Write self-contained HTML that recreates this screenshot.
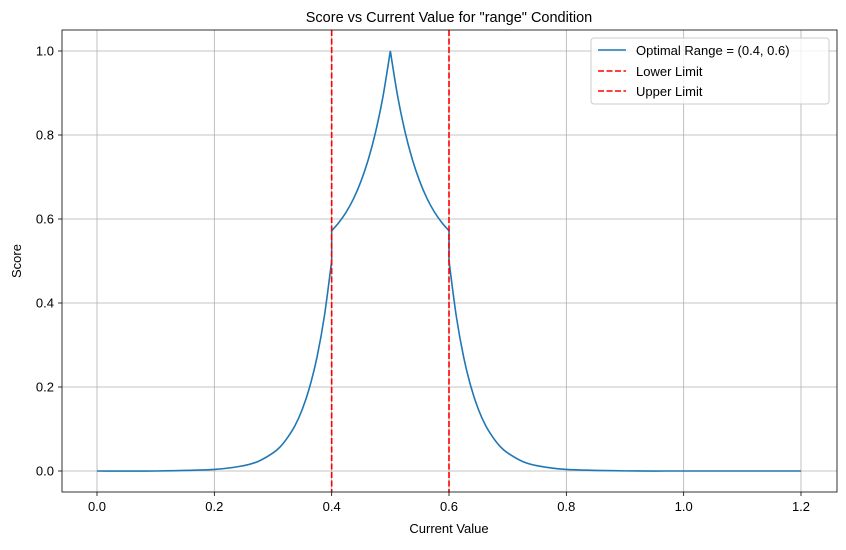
<!DOCTYPE html>
<html><head><meta charset="utf-8"><style>
body{margin:0;background:#fff;}
svg text{font-family:"Liberation Sans","DejaVu Sans",sans-serif;fill:#000;}
</style></head><body>
<svg id="chart" width="846" height="545">
<rect width="846" height="545" fill="#fff"/>
<g id="grid"></g>
<g id="plot"></g>
<rect x="62" y="30" width="775" height="462" fill="none" stroke="#000" stroke-width="0.8"/>
<g id="ticks"></g>
<text x="449" y="22" font-size="14.5" text-anchor="middle">Score vs Current Value for "range" Condition</text>
<text x="449" y="533" font-size="13" text-anchor="middle">Current Value</text>
<text x="21" y="261" font-size="13" text-anchor="middle" transform="rotate(-90 21 261)">Score</text>
<g>
<rect x="591" y="38" width="238" height="66" rx="3" fill="#fff" fill-opacity="0.8" stroke="#ccc"/>
<line x1="598" y1="50" x2="626" y2="50" stroke="#1f77b4" stroke-width="1.6"/>
<text x="636" y="55" font-size="13">Optimal Range = (0.4, 0.6)</text>
<line x1="598" y1="71" x2="626" y2="71" stroke="#ff0000" stroke-width="1.6" stroke-dasharray="6,2.5"/>
<text x="636" y="76" font-size="13">Lower Limit</text>
<line x1="598" y1="91" x2="626" y2="91" stroke="#ff0000" stroke-width="1.6" stroke-dasharray="6,2.5"/>
<text x="636" y="96" font-size="13">Upper Limit</text>
</g>
</svg>
<script>
const xValues=[0,0.1,0.2,0.25,0.275,0.3,0.3125,0.325,0.3375,0.35,0.3625,0.375,0.3875,0.4,0.4,0.4125,0.425,0.4375,0.45,0.4625,0.475,0.4875,0.5,0.5125,0.525,0.5375,0.55,0.5625,0.575,0.5875,0.6,0.6,0.6125,0.625,0.6375,0.65,0.6625,0.675,0.6875,0.7,0.725,0.75,0.8,0.9,1.0,1.1,1.2];
const scores=[0,0.00003,0.0037,0.0127,0.023,0.043,0.058,0.08,0.108,0.147,0.2,0.271,0.368,0.5,0.572,0.592,0.617,0.649,0.69,0.742,0.808,0.892,1.0,0.892,0.808,0.742,0.69,0.649,0.617,0.592,0.572,0.5,0.368,0.271,0.2,0.147,0.108,0.08,0.058,0.043,0.023,0.0127,0.0037,0.0003,0.00003,0,0];
const limits=[0.4,0.6];
const xTicks=[0,0.2,0.4,0.6,0.8,1.0,1.2];
const yTicks=[0,0.2,0.4,0.6,0.8,1.0];
const xTickLabels=["0.0","0.2","0.4","0.6","0.8","1.0","1.2"];
const yTickLabels=["0.0","0.2","0.4","0.6","0.8","1.0"];
</script>
<script>
const NS="http://www.w3.org/2000/svg";
const sx=v=>97+v*(801-97)/1.2;
const sy=v=>471-v*(471-51);
function mk(tag,attrs,parent){const e=document.createElementNS(NS,tag);for(const k in attrs)e.setAttribute(k,attrs[k]);parent.appendChild(e);return e;}
const grid=document.getElementById('grid'),ticks=document.getElementById('ticks'),plot=document.getElementById('plot');
xTicks.forEach((t,i)=>{
 const g=mk('line',{x1:sx(t),x2:sx(t),y1:30,y2:492,stroke:'#b0b0b0','stroke-width':0.8},grid);
 
 
 const m=mk('line',{x1:sx(t),x2:sx(t),y1:492,y2:496,stroke:'#000','stroke-width':0.8},ticks);
 
 
 const l=mk('text',{x:sx(t),y:511,'font-size':13,'text-anchor':'middle'},ticks);
 l.textContent=xTickLabels[i];
 
 
});
yTicks.forEach((t,i)=>{
 const g=mk('line',{x1:62,x2:837,y1:sy(t),y2:sy(t),stroke:'#b0b0b0','stroke-width':0.8},grid);
 
 
 const m=mk('line',{x1:58,x2:62,y1:sy(t),y2:sy(t),stroke:'#000','stroke-width':0.8},ticks);
 
 
 const l=mk('text',{x:54,y:sy(t)+4.5,'font-size':13,'text-anchor':'end'},ticks);
 l.textContent=yTickLabels[i];
 
 
});
const pts=xValues.map((x,i)=>[sx(x),sy(scores[i])]);
const peak=scores.indexOf(Math.max(...scores));
function isBreak(i){
 if(i===peak)return true;
 if(i>0&&Math.abs(pts[i-1][0]-pts[i][0])<0.01)return true;
 if(i<pts.length-1&&Math.abs(pts[i+1][0]-pts[i][0])<0.01)return true;
 return false;
}
let d='M'+pts[0][0].toFixed(2)+','+pts[0][1].toFixed(2);
for(let i=0;i<pts.length-1;i++){
 const p1=pts[i],p2=pts[i+1];
 if(Math.abs(p1[0]-p2[0])<0.01){d+=' L'+p2[0].toFixed(2)+','+p2[1].toFixed(2);continue;}
 const p0=(i>0&&!isBreak(i))?pts[i-1]:p1;
 const p3=(i+2<pts.length&&!isBreak(i+1))?pts[i+2]:p2;
 const c1=[p1[0]+(p2[0]-p0[0])/6,p1[1]+(p2[1]-p0[1])/6];
 const c2=[p2[0]-(p3[0]-p1[0])/6,p2[1]-(p3[1]-p1[1])/6];
 d+=' C'+c1[0].toFixed(2)+','+c1[1].toFixed(2)+' '+c2[0].toFixed(2)+','+c2[1].toFixed(2)+' '+p2[0].toFixed(2)+','+p2[1].toFixed(2);
}
const p=mk('path',{d:d,fill:'none',stroke:'#1f77b4','stroke-width':1.6,'stroke-linejoin':'miter'},plot);


limits.forEach((v,i)=>{
 const l=mk('line',{x1:sx(v),x2:sx(v),y1:30,y2:492,stroke:'#ff0000','stroke-width':1.6,'stroke-dasharray':'6,2.5'},plot);
 
 
});
</script>
</body></html>
